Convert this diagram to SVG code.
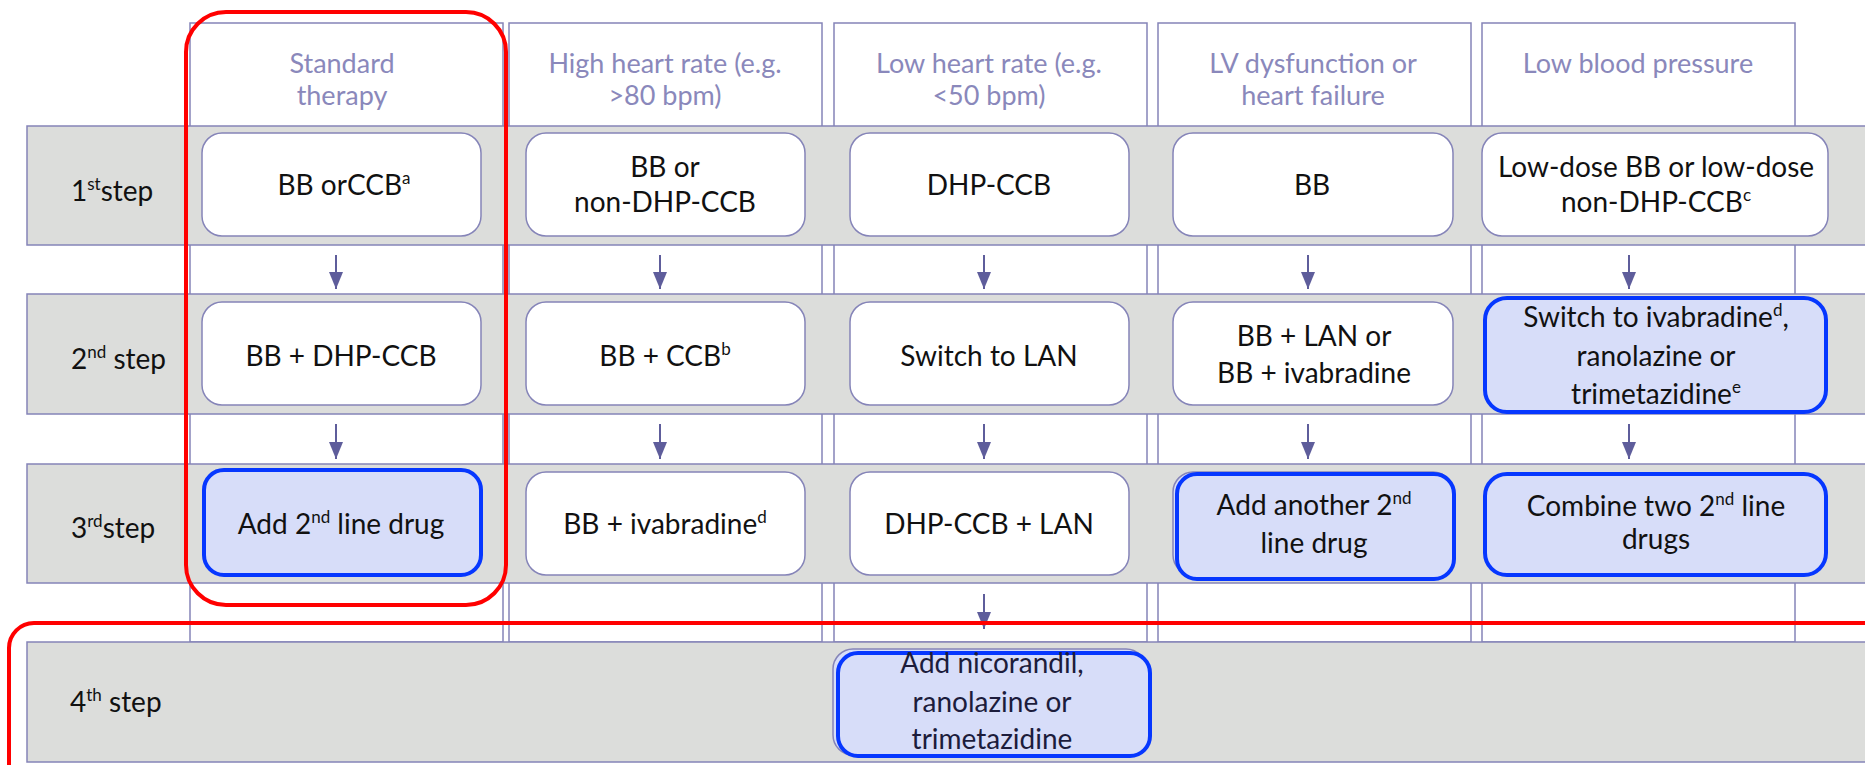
<svg xmlns="http://www.w3.org/2000/svg" width="1865" height="765" viewBox="0 0 1865 765">
<style>
.col{fill:#ffffff;stroke:#8584b8;stroke-width:1.5}
.band{fill:#dcdddb;stroke:#8584b8;stroke-width:1.5}
.node{fill:#ffffff;stroke:#8584b8;stroke-width:1.5}
.hl{fill:#d7ddf9;stroke:#0637ff;stroke-width:4}
.hlbase{fill:#d7ddf9;stroke:#8584b8;stroke-width:1.5}
.hdr{font-family:Lato,"Liberation Sans",sans-serif;font-size:27px;fill:#8a88bb;text-anchor:middle}
.t{font-family:Lato,"Liberation Sans",sans-serif;font-size:28px;fill:#111111;text-anchor:middle}
.tb{font-family:Lato,"Liberation Sans",sans-serif;font-size:28px;fill:#1c1c3c;text-anchor:middle}
.step{font-family:Lato,"Liberation Sans",sans-serif;font-size:28px;fill:#111111}
.sup{font-size:17px}
.arr{stroke:#5e5d9b;stroke-width:2;fill:none;marker-end:url(#ah)}
.red{fill:none;stroke:#ff0000;stroke-width:4}
</style>
<defs>
<marker id="ah" markerUnits="userSpaceOnUse" markerWidth="18" markerHeight="16" refX="17" refY="7" orient="auto">
<path d="M0,0 L17,7 L0,14 Z" fill="#5e5d9b"/>
</marker>
</defs>
<rect x="0" y="0" width="1865" height="765" fill="#ffffff"/>

<g id="columns">
<g id="col-standard"><rect class="col" x="190" y="23" width="313" height="619"/>
<text class="hdr" x="342" y="73">Standard</text><text class="hdr" x="342" y="105">therapy</text></g>
<g id="col-high-hr"><rect class="col" x="509" y="23" width="313" height="619"/>
<text class="hdr" x="665" y="73">High heart rate (e.g.</text><text class="hdr" x="665" y="105">&gt;80 bpm)</text></g>
<g id="col-low-hr"><rect class="col" x="834" y="23" width="313" height="619"/>
<text class="hdr" x="989" y="73">Low heart rate (e.g.</text><text class="hdr" x="989" y="105">&lt;50 bpm)</text></g>
<g id="col-lv"><rect class="col" x="1158" y="23" width="313" height="619"/>
<text class="hdr" x="1313" y="73">LV dysfunction or</text><text class="hdr" x="1313" y="105">heart failure</text></g>
<g id="col-low-bp"><rect class="col" x="1482" y="23" width="313" height="619"/>
<text class="hdr" x="1638" y="73">Low blood pressure</text></g>
</g>

<g id="rows">
<g id="step1"><rect class="band" x="27" y="126" width="1860" height="119"/>
<text class="step" x="71" y="201">1<tspan class="sup" dy="-11">st</tspan><tspan dy="11">step</tspan></text></g>
<g id="step2"><rect class="band" x="27" y="294" width="1860" height="120"/>
<text class="step" x="71" y="369">2<tspan class="sup" dy="-11">nd</tspan><tspan dy="11"> step</tspan></text></g>
<g id="step3"><rect class="band" x="27" y="464" width="1860" height="119"/>
<text class="step" x="71" y="538">3<tspan class="sup" dy="-11">rd</tspan><tspan dy="11">step</tspan></text></g>
<g id="step4"><rect class="band" x="27" y="642" width="1860" height="120"/>
<text class="step" x="70" y="712">4<tspan class="sup" dy="-11">th</tspan><tspan dy="11"> step</tspan></text></g>
</g>

<g id="n-1-1"><rect class="node" x="202" y="133" width="279" height="103" rx="20"/>
<text class="t" x="344" y="195">BB orCCB<tspan class="sup" dy="-11">a</tspan></text></g>
<g id="n-1-2"><rect class="node" x="526" y="133" width="279" height="103" rx="20"/>
<text class="t" x="665" y="177">BB or</text><text class="t" x="665" y="212">non-DHP-CCB</text></g>
<g id="n-1-3"><rect class="node" x="850" y="133" width="279" height="103" rx="20"/>
<text class="t" x="989" y="195">DHP-CCB</text></g>
<g id="n-1-4"><rect class="node" x="1173" y="133" width="280" height="103" rx="20"/>
<text class="t" x="1312" y="195">BB</text></g>
<g id="n-1-5"><rect class="node" x="1482" y="133" width="346" height="103" rx="20"/>
<text class="t" x="1656" y="177">Low-dose BB or low-dose</text><text class="t" x="1656" y="212">non-DHP-CCB<tspan class="sup" dy="-11">c</tspan></text></g>

<g id="n-2-1"><rect class="node" x="202" y="302" width="279" height="103" rx="20"/>
<text class="t" x="341" y="366">BB + DHP-CCB</text></g>
<g id="n-2-2"><rect class="node" x="526" y="302" width="279" height="103" rx="20"/>
<text class="t" x="665" y="366">BB + CCB<tspan class="sup" dy="-11">b</tspan></text></g>
<g id="n-2-3"><rect class="node" x="850" y="302" width="279" height="103" rx="20"/>
<text class="t" x="989" y="366">Switch to LAN</text></g>
<g id="n-2-4"><rect class="node" x="1173" y="302" width="280" height="103" rx="20"/>
<text class="t" x="1314" y="346">BB + LAN or</text><text class="t" x="1314" y="383">BB + ivabradine</text></g>
<g id="n-2-5"><rect class="hl" x="1485" y="298" width="341" height="114" rx="22"/>
<text class="t" x="1656" y="327">Switch to ivabradine<tspan class="sup" dy="-11">d</tspan><tspan dy="11">,</tspan></text>
<text class="t" x="1656" y="366">ranolazine or</text>
<text class="t" x="1656" y="404">trimetazidine<tspan class="sup" dy="-11">e</tspan></text></g>

<g id="n-3-1"><rect class="hl" x="204" y="470" width="277" height="105" rx="20"/>
<text class="t" x="341" y="534">Add 2<tspan class="sup" dy="-11">nd</tspan><tspan dy="11"> line drug</tspan></text></g>
<g id="n-3-2"><rect class="node" x="526" y="472" width="279" height="103" rx="20"/>
<text class="t" x="665" y="534">BB + ivabradine<tspan class="sup" dy="-11">d</tspan></text></g>
<g id="n-3-3"><rect class="node" x="850" y="472" width="279" height="103" rx="20"/>
<text class="t" x="989" y="534">DHP-CCB + LAN</text></g>
<g id="n-3-4"><rect class="hlbase" x="1173" y="472" width="280" height="103" rx="20"/><rect class="hl" x="1177" y="474" width="277" height="105" rx="20"/>
<text class="t" x="1314" y="515">Add another 2<tspan class="sup" dy="-11">nd</tspan></text><text class="t" x="1314" y="553">line drug</text></g>
<g id="n-3-5"><rect class="hl" x="1485" y="474" width="341" height="101" rx="22"/>
<text class="t" x="1656" y="516">Combine two 2<tspan class="sup" dy="-11">nd</tspan><tspan dy="11"> line</tspan></text><text class="t" x="1656" y="549">drugs</text></g>

<g id="n-4"><rect class="hlbase" x="833" y="649" width="313" height="106" rx="20"/><rect class="hl" x="838" y="653" width="312" height="103" rx="20"/>
<text class="tb" x="992" y="673">Add nicorandil,</text><text class="tb" x="992" y="712">ranolazine or</text><text class="tb" x="992" y="749">trimetazidine</text></g>

<g id="connectors">
<line class="arr" x1="336" y1="255" x2="336" y2="289"/>
<line class="arr" x1="660" y1="255" x2="660" y2="289"/>
<line class="arr" x1="984" y1="255" x2="984" y2="289"/>
<line class="arr" x1="1308" y1="255" x2="1308" y2="289"/>
<line class="arr" x1="1629" y1="255" x2="1629" y2="289"/>
<line class="arr" x1="336" y1="424" x2="336" y2="459"/>
<line class="arr" x1="660" y1="424" x2="660" y2="459"/>
<line class="arr" x1="984" y1="424" x2="984" y2="459"/>
<line class="arr" x1="1308" y1="424" x2="1308" y2="459"/>
<line class="arr" x1="1629" y1="424" x2="1629" y2="459"/>
<line class="arr" x1="984" y1="594" x2="984" y2="629"/>
</g>

<g id="highlights">
<rect class="red" x="186" y="12" width="320" height="593" rx="40"/>
<rect class="red" x="9" y="623" width="1900" height="200" rx="25"/>
</g>
</svg>
